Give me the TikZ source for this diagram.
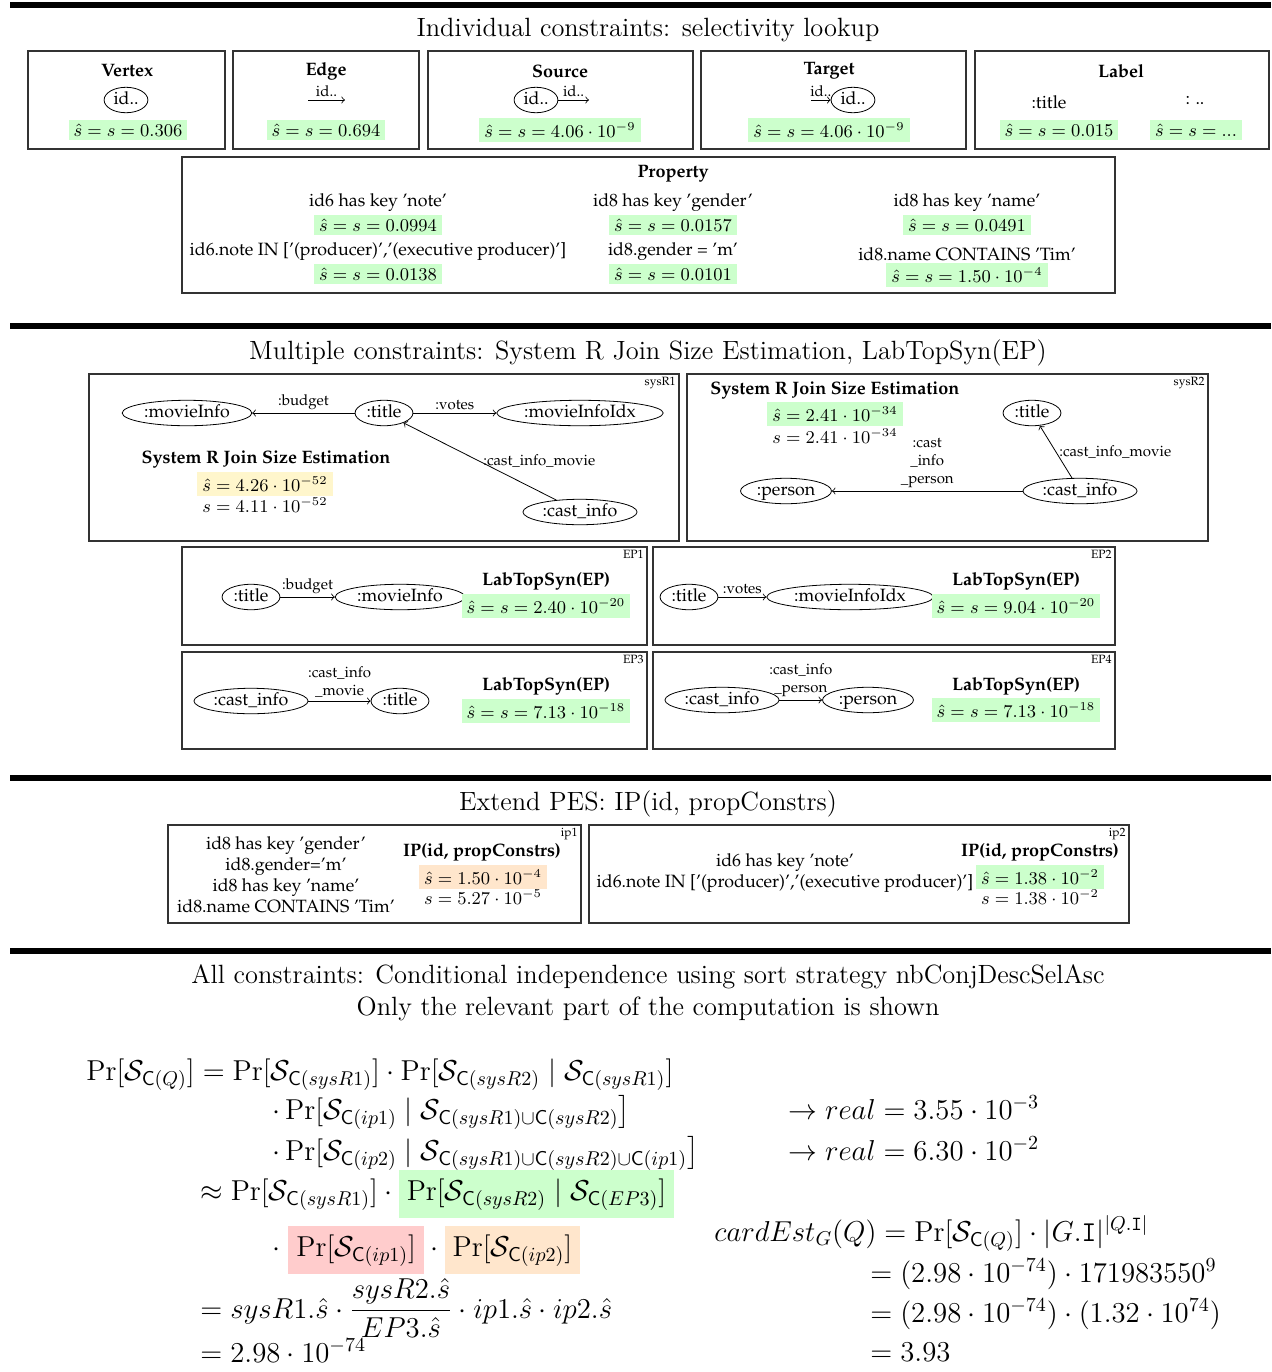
\documentclass[tikz,border=0pt]{standalone}
\usepackage[T1,TU]{fontenc}
\usepackage{amsmath,amssymb}
\usepackage{tikz}
\usetikzlibrary{shapes.geometric,positioning}

\definecolor{hlgreen}{HTML}{CCFFCC}
\definecolor{hlyellow}{HTML}{FFF6CC}
\definecolor{hlorange}{HTML}{FFE6CC}
\definecolor{hlred}{HTML}{FFCCCC}

\newcommand\pal{\fontencoding{T1}\fontfamily{ppl}\selectfont}
\newcommand\Sc[1]{\mathcal{S}_{\mathsf{C}(#1)}}

\tikzset{
  secrule/.style={line width=3pt},
  frame/.style={draw=black!80, line width=0.7pt},
  hdr/.style={font=\fontsize{13.2}{16}\selectfont, inner sep=0pt},
  ttl/.style={font=\pal\bfseries\fontsize{9}{11}\selectfont, inner sep=0pt},
  txt/.style={font=\pal\fontsize{8.9}{10.5}\selectfont, inner sep=0pt},
  tag/.style={font=\pal\fontsize{6}{7}\selectfont, inner sep=1pt, anchor=north east},
  elbl/.style={font=\pal\fontsize{7.5}{9}\selectfont, inner sep=1.5pt},
  gnode/.style={ellipse, draw, font=\pal\fontsize{8.9}{10}\selectfont,
    inner xsep=1.5pt, inner ysep=1pt, text height=5.5pt, text depth=1.5pt},
  val/.style={fill=hlgreen, font=\fontsize{9}{11}\selectfont, inner xsep=2.5pt, inner ysep=2pt},
  valy/.style={val, fill=hlyellow},
  valo/.style={val, fill=hlorange},
  plain/.style={font=\fontsize{9}{11}\selectfont, inner sep=0pt},
  eq/.style={font=\fontsize{13.8}{17}\selectfont, inner sep=0pt, anchor=base west},
}

\begin{document}
\begin{tikzpicture}[x=0.5pt,y=-0.5pt]
	\useasboundingbox (0,0) rectangle (1271,1372);

	% section rules
	\foreach \y in {5,326,778,951}
		\draw[secrule] (10,\y) -- (1271,\y);

	% individual constraints
	\node[hdr] (hdrA) at (648,30) {Individual constraints: selectivity lookup};
	\draw[frame] (28,51) rectangle (225,149);
	\draw[frame] (233,51) rectangle (419,149);
	\draw[frame] (428,51) rectangle (693,149);
	\draw[frame] (701,51) rectangle (966,149);
	\draw[frame] (975,51) rectangle (1269,149);

	\node[ttl] (vtxT) at (127,71) {Vertex};
	\node[gnode] (vtxN) at (126,100) {id..};
	\node[val] (vtxV) at (128,130) {$\hat{s}=s=0.306$};

	\node[ttl] (edgT) at (326,71) {Edge};
	\coordinate (edgA) at (308,100);
	\coordinate (edgB) at (345,100);
	\draw[->] (edgA) -- node[elbl,above] {id..} (edgB);
	\node[val] (edgV) at (326,130) {$\hat{s}=s=0.694$};

	\node[ttl] (srcT) at (560,71) {Source};
	\node[gnode] (srcN) at (536,100) {id..};
	\coordinate (srcB) at (589,100);
	\draw[->] (srcN) -- node[elbl,above] {id..} (srcB);
	\node[val] (srcV) at (560,130) {$\hat{s}=s=4.06\cdot10^{-9}$};

	\node[ttl] (tgtT) at (829,71) {Target};
	\coordinate (tgtA) at (811,100);
	\node[gnode] (tgtN) at (853,100) {id..};
	\draw[->] (tgtA) -- node[elbl,above] {id..} (tgtN);
	\node[val] (tgtV) at (829,130) {$\hat{s}=s=4.06\cdot10^{-9}$};

	\node[ttl] (lblT) at (1121,71) {Label};
	\node[txt] (lblA) at (1049,102) {:title};
	\node[txt] (lblB) at (1195,101) {: ..};
	\node[val] (lblAV) at (1059,130) {$\hat{s}=s=0.015$};
	\node[val] (lblBV) at (1196,130) {$\hat{s}=s=...$};

	% property
	\draw[frame] (182,157) rectangle (1115,293);
	\node[ttl] (prpT) at (673,174) {Property};
	\node[txt] (prpA) at (378,203) {id6 has key 'note'};
	\node[val] (prpAV) at (378,225) {$\hat{s}=s=0.0994$};
	\node[txt] (prpB) at (378,252) {id6.note IN ['(producer)','(executive producer)']};
	\node[val] (prpBV) at (378,274) {$\hat{s}=s=0.0138$};
	\node[txt] (prpC) at (673,203) {id8 has key 'gender'};
	\node[val] (prpCV) at (673,225) {$\hat{s}=s=0.0157$};
	\node[txt] (prpD) at (673,252) {id8.gender = 'm'};
	\node[val] (prpDV) at (673,274) {$\hat{s}=s=0.0101$};
	\node[txt] (prpE) at (967,203) {id8 has key 'name'};
	\node[val] (prpEV) at (967,225) {$\hat{s}=s=0.0491$};
	\node[txt] (prpF) at (967,254) {id8.name CONTAINS 'Tim'};
	\node[val] (prpFV) at (967,275) {$\hat{s}=s=1.50\cdot10^{-4}$};

	% multiple constraints
	\node[hdr] (hdrB) at (648,353) {Multiple constraints: System R Join Size Estimation, LabTopSyn(EP)};

	% sysR1
	\draw[frame] (89,374) rectangle (679,541);
	\node[tag] (r1tag) at (678,375) {sysR1};
	\node[gnode] (r1info) at (187,413) {:movieInfo};
	\node[gnode] (r1title) at (384,413) {:title};
	\node[gnode] (r1idx) at (580,413) {:movieInfoIdx};
	\node[gnode] (r1cast) at (580,512) {:cast\_info};
	\draw[->] (r1title) -- node[elbl,above] {:budget} (r1info);
	\draw[->] (r1title) -- node[elbl,above] {:votes} (r1idx);
	\draw[->] (r1cast) -- node[elbl,right] {:cast\_info\_movie} (r1title);
	\node[ttl] (r1T) at (266,459) {System R Join Size Estimation};
	\node[valy] (r1V) at (265,484) {$\hat{s}=4.26\cdot10^{-52}$};
	\node[plain] (r1S) at (265,505) {$s=4.11\cdot10^{-52}$};

	% sysR2
	\draw[frame] (687,374) rectangle (1208,541);
	\node[tag] (r2tag) at (1207,375) {sysR2};
	\node[ttl,anchor=west] (r2T) at (710,390) {System R Join Size Estimation};
	\node[val] (r2V) at (835,414) {$\hat{s}=2.41\cdot10^{-34}$};
	\node[plain] (r2S) at (835,436) {$s=2.41\cdot10^{-34}$};
	\node[gnode] (r2title) at (1032,413) {:title};
	\node[gnode] (r2person) at (786,491) {:person};
	\node[gnode] (r2cast) at (1080,491) {:cast\_info};
	\draw[->] (r2cast) -- node[elbl,above,align=center] {:cast\\\_info\\\_person} (r2person);
	\draw[->] (r2cast) -- node[elbl,right] {:cast\_info\_movie} (r2title);

	% EP1
	\draw[frame] (182,547) rectangle (647,645);
	\node[tag] (e1tag) at (646,548) {EP1};
	\node[gnode] (e1title) at (251,597) {:title};
	\node[gnode] (e1info) at (400,597) {:movieInfo};
	\draw[->] (e1title) -- node[elbl,above] {:budget} (e1info);
	\node[ttl] (e1T) at (546,581) {LabTopSyn(EP)};
	\node[val] (e1V) at (546,606) {$\hat{s}=s=2.40\cdot10^{-20}$};

	% EP2
	\draw[frame] (653,547) rectangle (1115,645);
	\node[tag] (e2tag) at (1114,548) {EP2};
	\node[gnode] (e2title) at (689,597) {:title};
	\node[gnode] (e2idx) at (850,597) {:movieInfoIdx};
	\draw[->] (e2title) -- node[elbl,above] {:votes} (e2idx);
	\node[ttl] (e2T) at (1016,581) {LabTopSyn(EP)};
	\node[val] (e2V) at (1016,606) {$\hat{s}=s=9.04\cdot10^{-20}$};

	% EP3
	\draw[frame] (182,652) rectangle (647,749);
	\node[tag] (e3tag) at (646,653) {EP3};
	\node[gnode] (e3cast) at (251,701) {:cast\_info};
	\node[gnode] (e3title) at (400,701) {:title};
	\draw[->] (e3cast) -- node[elbl,above,align=center] {:cast\_info\\\_movie} (e3title);
	\node[ttl] (e3T) at (546,686) {LabTopSyn(EP)};
	\node[val] (e3V) at (546,711) {$\hat{s}=s=7.13\cdot10^{-18}$};

	% EP4
	\draw[frame] (653,652) rectangle (1115,749);
	\node[tag] (e4tag) at (1114,653) {EP4};
	\node[gnode] (e4cast) at (722,700) {:cast\_info};
	\node[gnode] (e4person) at (868,700) {:person};
	\draw[->] (e4cast) -- node[elbl,above,align=center] {:cast\_info\\\_person} (e4person);
	\node[ttl] (e4T) at (1016,686) {LabTopSyn(EP)};
	\node[val] (e4V) at (1016,710) {$\hat{s}=s=7.13\cdot10^{-18}$};

	% extend PES
	\node[hdr] (hdrC) at (648,804) {Extend PES: IP(id, propConstrs)};

	\draw[frame] (168,825) rectangle (581,923);
	\node[tag] (p1tag) at (580,826) {ip1};
	\node[txt,align=center] (p1C) at (286,875) {id8 has key 'gender'\\id8.gender='m'\\id8 has key 'name'\\id8.name CONTAINS 'Tim'};
	\node[ttl] (p1T) at (482,852) {IP(id, propConstrs)};
	\node[valo] (p1V) at (483,877) {$\hat{s}=1.50\cdot10^{-4}$};
	\node[plain] (p1S) at (483,897) {$s=5.27\cdot10^{-5}$};

	\draw[frame] (589,825) rectangle (1129,923);
	\node[tag] (p2tag) at (1128,826) {ip2};
	\node[txt,align=center] (p2C) at (785,873) {id6 has key 'note'\\id6.note IN ['(producer)','(executive producer)']};
	\node[ttl] (p2T) at (1040,852) {IP(id, propConstrs)};
	\node[val] (p2V) at (1040,877) {$\hat{s}=1.38\cdot10^{-2}$};
	\node[plain] (p2S) at (1040,897) {$s=1.38\cdot10^{-2}$};

	% all constraints
	\node[hdr] (hdrD) at (648,977) {All constraints: Conditional independence using sort strategy nbConjDescSelAsc};
	\node[hdr] (hdrE) at (648,1009) {Only the relevant part of the computation is shown};

	\setlength{\fboxsep}{4pt}
	\node[eq] (eqA) at (86,1080) {$\Pr[\Sc{Q}] = \Pr[\Sc{sysR1}]\cdot\Pr[\Sc{sysR2}\mid\Sc{sysR1}]$};
	\node[eq] (eqB) at (272,1119) {$\cdot\Pr[\Sc{ip1}\mid\mathcal{S}_{\mathsf{C}(sysR1)\cup\mathsf{C}(sysR2)}\bigr]$};
	\node[eq] (eqC) at (272,1160) {$\cdot\Pr[\Sc{ip2}\mid\mathcal{S}_{\mathsf{C}(sysR1)\cup\mathsf{C}(sysR2)\cup\mathsf{C}(ip1)}\bigr]$};
	\node[eq] (eqD) at (200,1200) {$\approx\Pr[\Sc{sysR1}]\cdot\colorbox{hlgreen}{$\Pr[\Sc{sysR2}\mid\Sc{EP3}]$}$};
	\node[eq] (eqE) at (272,1256) {$\cdot\;\colorbox{hlred}{$\Pr[\Sc{ip1}]$}\cdot\colorbox{hlorange}{$\Pr[\Sc{ip2}]$}$};
	\node[eq] (eqF) at (200,1318) {$= sysR1.\hat{s}\cdot\dfrac{sysR2.\hat{s}}{EP3.\hat{s}}\cdot ip1.\hat{s}\cdot ip2.\hat{s}$};
	\node[eq] (eqG) at (200,1362) {$= 2.98\cdot10^{-74}$};

	\node[eq] (realA) at (788,1119) {$\rightarrow real = 3.55\cdot10^{-3}$};
	\node[eq] (realB) at (788,1160) {$\rightarrow real = 6.30\cdot10^{-2}$};

	\node[eq] (cardA) at (714,1241) {$cardEst_G(Q) = \Pr[\Sc{Q}]\cdot|G.\mathtt{I}|^{|Q.\mathtt{I}|}$};
	\node[eq] (cardB) at (870,1282) {$= (2.98\cdot10^{-74})\cdot171983550^9$};
	\node[eq] (cardC) at (870,1322) {$= (2.98\cdot10^{-74})\cdot(1.32\cdot10^{74})$};
	\node[eq] (cardD) at (870,1361) {$= 3.93$};
\end{tikzpicture}
\end{document}
